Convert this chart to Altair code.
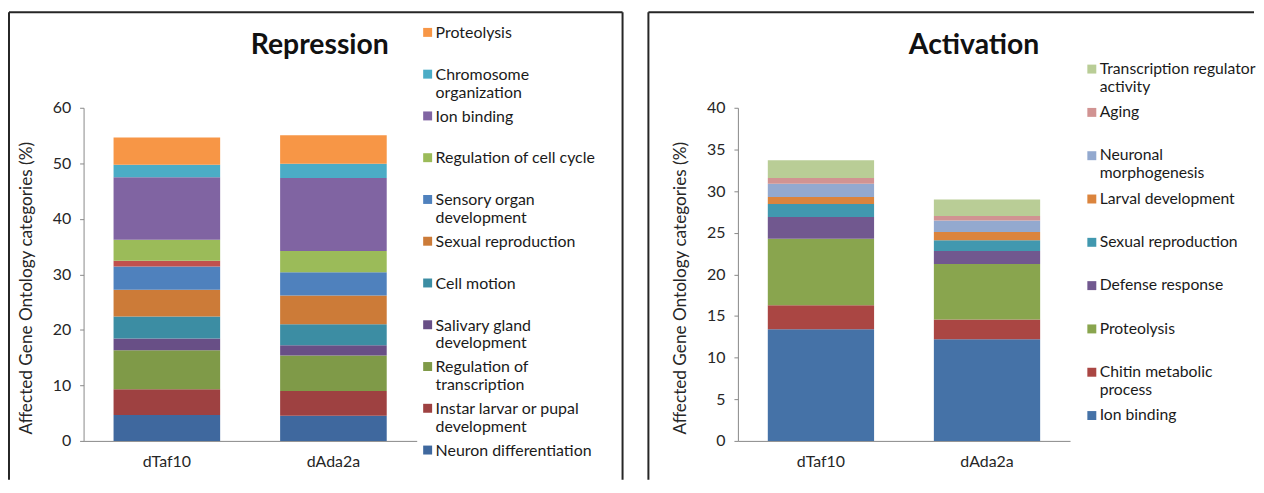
import json
import altair as alt
import pandas as pd

groups = ["dTaf10", "dAda2a"]

# ---- Repression (stack order: bottom -> top) ----
rep_categories = [
    "Neuron differentiation",
    "Instar larvar or pupal development",
    "Regulation of transcription",
    "Salivary gland development",
    "Cell motion",
    "Sexual reproduction",
    "Sensory organ development",
    "(unlabelled)",
    "Regulation of cell cycle",
    "Ion binding",
    "Chromosome organization",
    "Proteolysis",
]
rep_dTaf10 = [4.66, 4.65, 7.0, 2.15, 3.94, 4.83, 4.18, 1.02, 3.82, 11.22, 2.27, 4.9]
rep_dAda2a = [4.54, 4.47, 6.39, 1.85, 3.76, 5.2, 4.18, 0.0, 3.82, 13.13, 2.57, 5.13]
rep_colors = ["#3F689E", "#9E4141", "#7F9A48", "#684F86", "#3C8DA3", "#CC7B38",
              "#4F81BD", "#C0504D", "#9BBB59", "#8064A2", "#4BACC6", "#F79646"]
rep_wraps = {
    "Chromosome organization": ["Chromosome", "organization"],
    "Sensory organ development": ["Sensory organ", "development"],
    "Salivary gland development": ["Salivary gland", "development"],
    "Regulation of transcription": ["Regulation of", "transcription"],
    "Instar larvar or pupal development": ["Instar larvar or pupal", "development"],
}

# ---- Activation (stack order: bottom -> top) ----
act_categories = [
    "Ion binding",
    "Chitin metabolic process",
    "Proteolysis",
    "Defense response",
    "Sexual reproduction",
    "Larval development",
    "Neuronal morphogenesis",
    "Aging",
    "Transcription regulator activity",
]
act_dTaf10 = [13.41, 2.87, 8.0, 2.59, 1.59, 0.83, 1.6, 0.67, 2.15]
act_dAda2a = [12.22, 2.35, 6.68, 1.56, 1.27, 0.99, 1.4, 0.52, 1.99]
act_colors = ["#4572A7", "#AA4643", "#89A54E", "#71588F", "#4198AF",
              "#DB843D", "#93A9CF", "#D19392", "#B9CD96"]
act_wraps = {
    "Transcription regulator activity": ["Transcription regulator", "activity"],
    "Neuronal morphogenesis": ["Neuronal", "morphogenesis"],
    "Chitin metabolic process": ["Chitin metabolic", "process"],
}

Y_TITLE = "Affected Gene Ontology categories (%)"
FONT = "Lato"
VIEW_H = 470
FRAME = "#262626"


def wrap_expr(wraps):
    expr = "datum.label"
    for k, v in wraps.items():
        expr = f"datum.label === {json.dumps(k)} ? {json.dumps(v)} : " + expr
    return expr


def frame(x0, width, right_edge):
    base = alt.Chart(pd.DataFrame({"f": [0]}))
    style = dict(color=FRAME, strokeWidth=2)
    top = base.mark_rule(**style).encode(
        x=alt.value(x0), x2=alt.value(width), y=alt.value(0))
    left = base.mark_rule(**style).encode(
        x=alt.value(x0), y=alt.value(0), y2=alt.value(VIEW_H))
    parts = [top, left]
    if right_edge:
        parts.append(base.mark_rule(**style).encode(
            x=alt.value(width), y=alt.value(0), y2=alt.value(VIEW_H)))
    return parts


def panel(title, cats, colors, v1, v2, wraps, ymax, ystep, width, right_edge, x0,
          xrange, y_off, title_dx, title_pad, legend_x, legend_y, row_pad, lfs):
    rows = []
    for i, c in enumerate(cats):
        rows.append({"group": groups[0], "category": c, "value": v1[i], "order": i})
        rows.append({"group": groups[1], "category": c, "value": v2[i], "order": i})
    df = pd.DataFrame(rows)
    domain = list(reversed(cats))
    rng = list(reversed(colors))
    legend_values = [c for c in domain if not c.startswith("(")]
    bars = alt.Chart(df).mark_bar().encode(
        x=alt.X("group:N", sort=groups, title=None,
                scale=alt.Scale(range=xrange, paddingInner=0.36, paddingOuter=0.18),
                axis=alt.Axis(labelAngle=0, ticks=False, domainColor="#888888",
                              labelFontSize=16, labelFont=FONT, labelColor="#262626",
                              labelPadding=13, offset=-(VIEW_H - 431))),
        y=alt.Y("value:Q", stack="zero", title=Y_TITLE,
                scale=alt.Scale(domain=[0, ymax], range=[431, 96], nice=False),
                axis=alt.Axis(values=list(range(0, ymax + 1, ystep)), grid=False,
                              tickSize=4, tickColor="#888888", domainColor="#888888",
                              labelFontSize=16, labelFont=FONT, labelColor="#262626",
                              labelPadding=9, titleFontSize=17.3, titleFont=FONT,
                              titleFontWeight="normal", titleColor="#262626",
                              titlePadding=title_pad, titleY=277, offset=y_off)),
        color=alt.Color("category:N",
                        scale=alt.Scale(domain=domain, range=rng),
                        legend=alt.Legend(title=None, orient="none",
                                          legendX=legend_x, legendY=legend_y,
                                          values=legend_values,
                                          labelExpr=wrap_expr(wraps),
                                          labelFont=FONT, labelFontSize=lfs,
                                          labelColor="#1a1a1a", labelLimit=320,
                                          labelBaseline="top", labelOffset=0,
                                          symbolType="M-1,0.6H1V2.6H-1Z",
                                          symbolSize=81, symbolStrokeWidth=0,
                                          gridAlign="all", rowPadding=row_pad,
                                          direction="vertical")),
        order=alt.Order("order:Q", sort="ascending"),
    )
    return alt.layer(bars, *frame(x0, width, right_edge)).properties(
        width=width, height=VIEW_H,
        title=alt.TitleParams(text=title, font=FONT, fontSize=28.5, fontWeight="bold",
                              color="#111111", anchor="middle", frame="group",
                              baseline="alphabetic", offset=-71, dx=title_dx),
    )


left = panel("Repression", rep_categories, rep_colors, rep_dTaf10, rep_dAda2a,
             rep_wraps, 60, 10, 617, True, 0, [75, 410], -75, 4, 17, 413, 5, -0.7, 16)
right = panel("Activation", act_categories, act_colors, act_dTaf10, act_dAda2a,
              act_wraps, 40, 5, 612, False, 3, [93, 427], -93, 24.5, 17, 441, 42, 2.55, 15.8)

chart = alt.hconcat(left, right, spacing=23, bounds="flush").resolve_scale(
    color="independent", x="independent", y="independent"
).properties(
    padding={"left": 0, "top": 2, "right": 0, "bottom": 0}
).configure(font=FONT).configure_view(strokeWidth=0)

chart.save("out.html", embed_options={"renderer": "svg", "actions": False})
